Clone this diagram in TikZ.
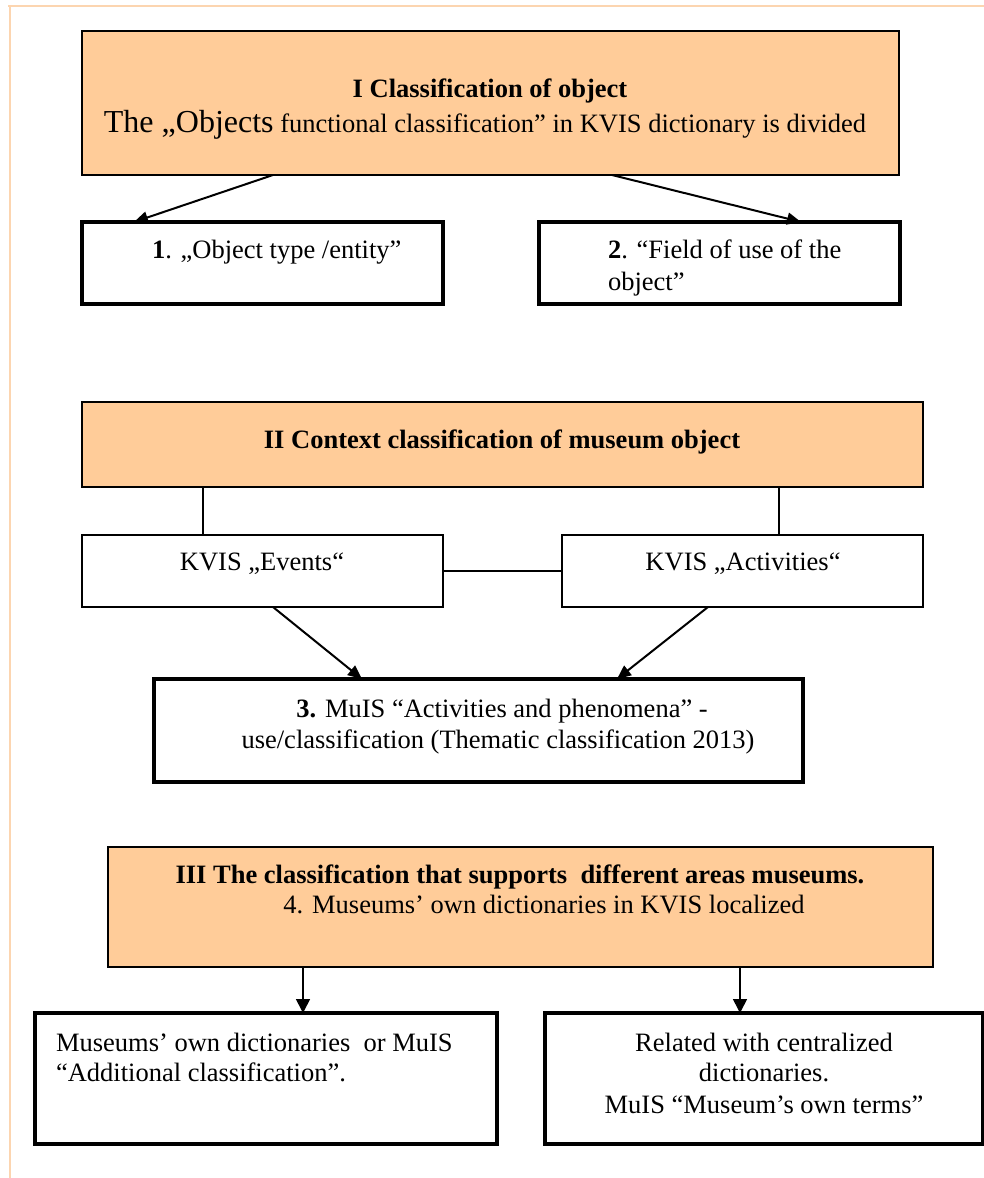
\documentclass[tikz,border=0pt]{standalone}
\usepackage{fontspec}
\setmainfont{Liberation Serif}
\usetikzlibrary{arrows.meta}
\definecolor{peach}{HTML}{FFCC99}
\definecolor{pageline}{HTML}{FCD5B0}
\begin{document}
\begin{tikzpicture}[x=1pt,y=-1pt,
  fillbox/.style={draw, fill=peach, line width=1.8pt, inner sep=0pt, outer sep=0pt, anchor=north west},
  heavybox/.style={draw, line width=3.6pt, inner sep=0pt, outer sep=0pt, anchor=north west},
  lightbox/.style={draw, line width=1.6pt, inner sep=0pt, outer sep=0pt, anchor=north west},
  txt/.style={inner sep=0pt, outer sep=0pt, anchor=base, font=\fontsize{26.5}{32}\selectfont},
  ltxt/.style={txt, anchor=base west},
  arr/.style={line width=2pt, -{Triangle[length=14pt,width=12pt]}},
  conn/.style={line width=1.6pt}]
\useasboundingbox (0,0) rectangle (984,1178);
% page frame
\draw[pageline, line width=2pt] (8,6) -- (984,6);
\draw[pageline, line width=2pt] (9.5,6) -- (9.5,1178);

% ---------- Section I ----------
\node[fillbox, minimum width=817pt, minimum height=144pt] (bI) at (82,31) {};
\node[txt, font=\fontsize{26.5}{32}\selectfont\bfseries] (tI1) at (490,97) {I Classification of object};
\node[txt] (tI2) at (485,132) {{\fontsize{32}{36}\selectfont The „Objects} functional classification” in KVIS dictionary is divided};

\node[heavybox, minimum width=361pt, minimum height=82pt] (b1) at (82,222) {};
\node[ltxt] (t1) at (152,258) {\textbf{1}. „Object type /entity”};
\node[heavybox, minimum width=361pt, minimum height=82pt] (b2) at (539,222) {};
\node[ltxt] (t2a) at (608,258) {\textbf{2}. “Field of use of the};
\node[ltxt] (t2b) at (608,290) {object”};

\draw[arr] ([xshift=191pt]bI.south west) -- ([xshift=52pt]b1.north west);
\draw[arr] ([xshift=530pt]bI.south west) -- ([xshift=262pt]b2.north west);

% ---------- Section II ----------
\node[fillbox, minimum width=841pt, minimum height=85pt] (bII) at (82,402) {};
\node[txt, font=\fontsize{26.5}{32}\selectfont\bfseries] (tII) at (502,448) {II Context classification of museum object};

\node[lightbox, minimum width=361pt, minimum height=72pt] (ev) at (82,535) {};
\node[txt] (tev) at (262,570) {KVIS „Events“};
\node[lightbox, minimum width=361pt, minimum height=72pt] (ac) at (562,535) {};
\node[txt] (tac) at (743,570) {KVIS „Activities“};

\draw[conn] ([xshift=121pt]bII.south west) -- ([xshift=121pt]ev.north west);
\draw[conn] ([xshift=697pt]bII.south west) -- ([xshift=217pt]ac.north west);
\draw[conn] (ev.east) -- (ac.west);

\node[heavybox, minimum width=649pt, minimum height=103pt] (b3) at (154,679) {};
\node[txt] (t3a) at (502,717) {\textbf{3.} MuIS “Activities and phenomena” -};
\node[txt] (t3b) at (498,748) {use/classification (Thematic classification 2013)};

\draw[arr] ([xshift=191pt]ev.south west) -- ([xshift=208pt]b3.north west);
\draw[arr] ([xshift=146pt]ac.south west) -- ([xshift=463pt]b3.north west);

% ---------- Section III ----------
\node[fillbox, minimum width=825pt, minimum height=120pt] (bIII) at (108,847) {};
\node[txt, font=\fontsize{26.5}{32}\selectfont\bfseries] (tIII1) at (520,883) {III The classification that supports\ \ different areas museums.};
\node[txt] (tIII2) at (544,913) {4. Museums’ own dictionaries in KVIS localized};

\node[heavybox, minimum width=462pt, minimum height=131pt] (bl) at (35,1013) {};
\node[ltxt] (tbl1) at (56,1051) {Museums’ own dictionaries\ \ or MuIS};
\node[ltxt] (tbl2) at (56,1081) {“Additional classification”.};

\node[heavybox, minimum width=438pt, minimum height=131pt] (br) at (545,1013) {};
\node[txt] (tbr1) at (764,1051) {Related with centralized};
\node[txt] (tbr2) at (764,1081) {dictionaries.};
\node[txt] (tbr3) at (764,1113) {MuIS “Museum’s own terms”};

\draw[line width=1.6pt, -{Triangle[length=14pt,width=14pt]}] ([xshift=195pt]bIII.south west) -- ([xshift=268pt]bl.north west);
\draw[line width=1.6pt, -{Triangle[length=14pt,width=14pt]}] ([xshift=632pt]bIII.south west) -- ([xshift=195pt]br.north west);
\end{tikzpicture}
\end{document}
